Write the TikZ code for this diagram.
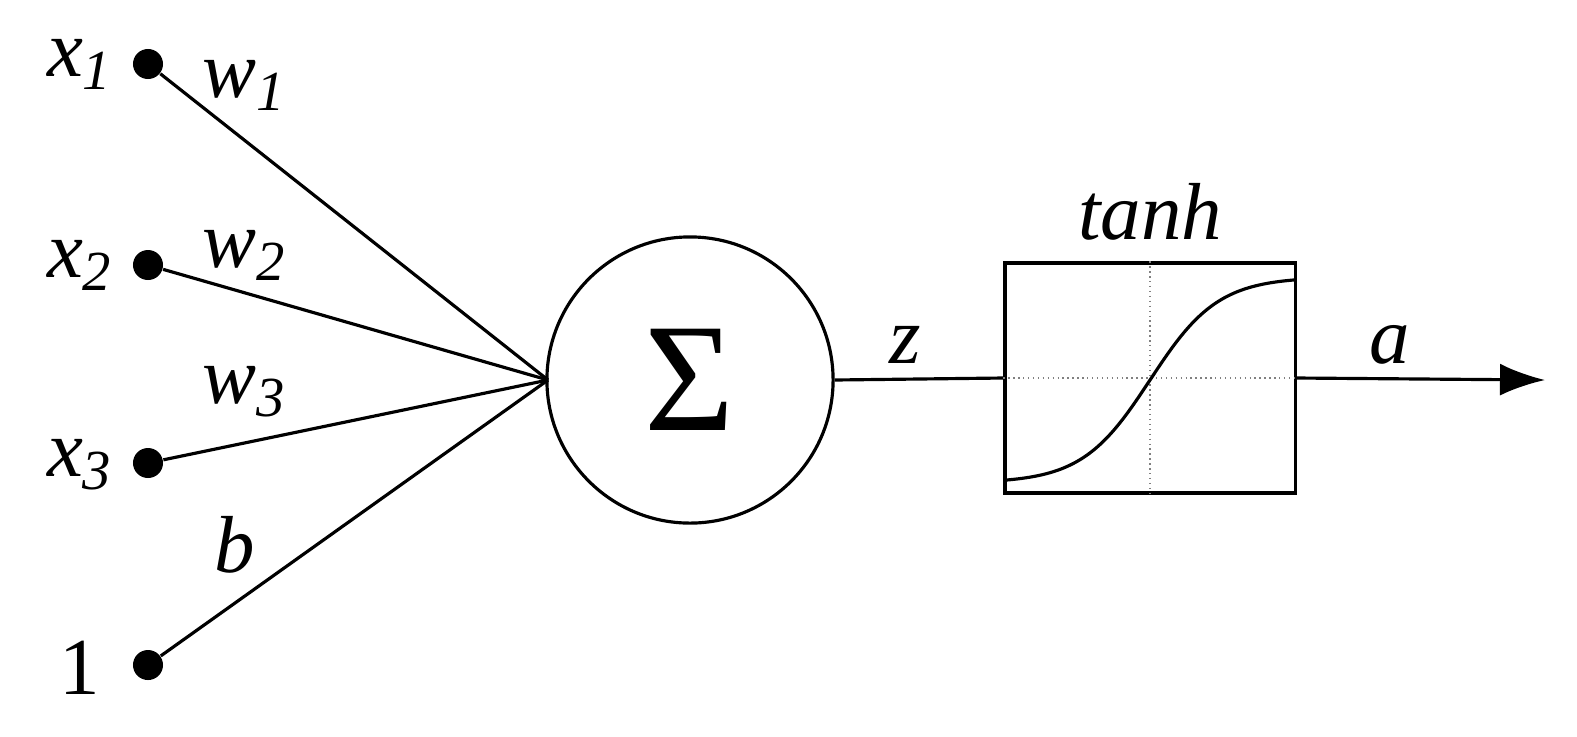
\documentclass[tikz,border=0pt]{standalone}
\usepackage{fontspec}
\setmainfont{Liberation Serif}
\usetikzlibrary{arrows.meta}
\begin{document}
\begin{tikzpicture}[x=0.01cm,y=-0.01cm,
  dot/.style={circle,fill=black,inner sep=0pt,minimum size=0.3cm},
  lbl/.style={font=\fontsize{23}{26}\selectfont\itshape,inner sep=0pt},
  ln/.style={line width=0.9pt}]
\useasboundingbox (0,0) rectangle (1577,736);
\node[dot] (x1) at (148,64) {};
\node[dot] (x2) at (148,265) {};
\node[dot] (x3) at (148,463) {};
\node[dot] (one) at (148,665) {};
\coordinate (c) at (548,380);
\node[circle,draw,ln,minimum size=2.86cm,inner sep=0pt] (s) at (690,380) {\fontsize{44}{48}\selectfont Σ};
\node[draw,ln,minimum width=2.9cm,minimum height=2.3cm,inner sep=0pt] (f) at (1150,378) {};
\coordinate (out) at (1545,380);
\foreach \n in {x1,x2,x3,one} \draw[ln] (\n) -- (c);
\draw[ln] (s.east) -- (f.west);
\draw[ln,-{Latex[length=0.45cm,width=0.32cm]}] (f.east) -- (out);
\draw[densely dotted,gray] (f.north) -- (f.south) (f.west) -- (f.east);
\draw[ln] plot[domain=-145:145,samples=60,smooth] ({1150+\x},{380-103*tanh(\x/68)});
\node[lbl] at (80,64) {x\textsubscript{1}};
\node[lbl] at (80,265) {x\textsubscript{2}};
\node[lbl] at (80,465) {x\textsubscript{3}};
\node[lbl,font=\fontsize{23}{26}\selectfont] at (80,668) {1};
\node[lbl] at (245,85) {w\textsubscript{1}};
\node[lbl] at (245,255) {w\textsubscript{2}};
\node[lbl] at (245,392) {w\textsubscript{3}};
\node[lbl] at (235,545) {b};
\node[lbl] at (905,345) {z};
\node[lbl] at (1150,212) {tanh};
\node[lbl] at (1390,345) {a};
\end{tikzpicture}
\end{document}
